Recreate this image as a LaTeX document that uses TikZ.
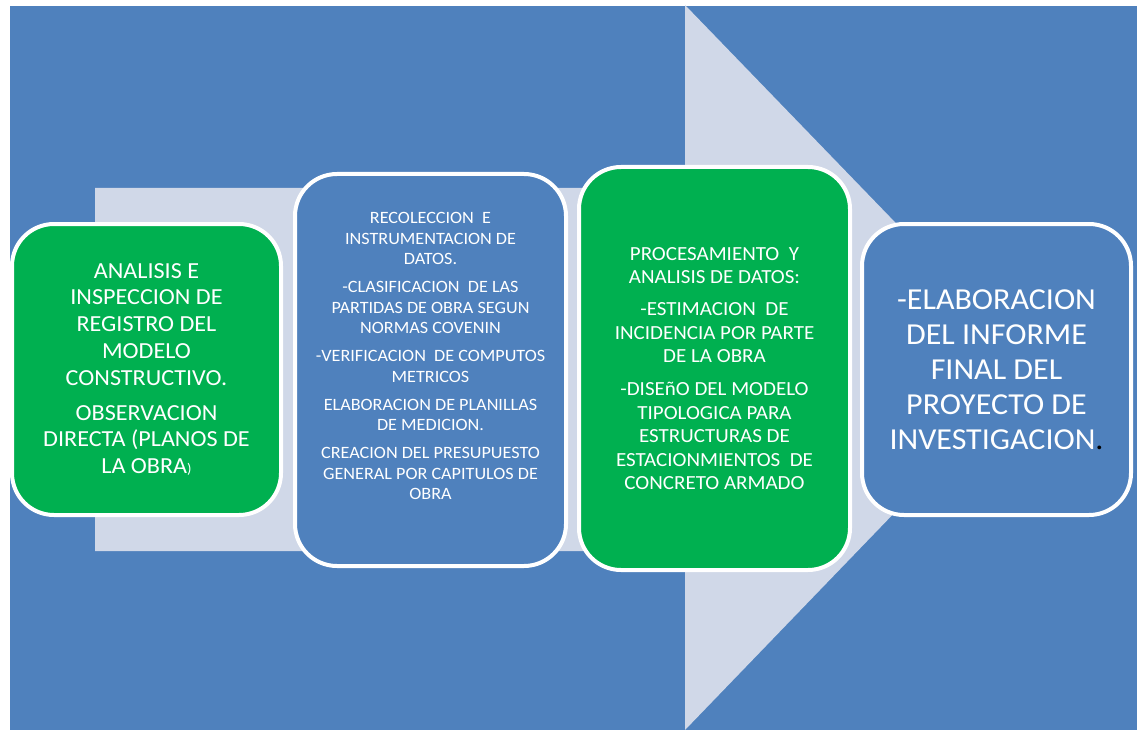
\documentclass[tikz,border=0pt]{standalone}
\usepackage{fontspec}
\setmainfont{Carlito}[FakeStretch=1.05]
\definecolor{fondoazul}{HTML}{4F81BD}
\definecolor{verdeobra}{HTML}{00B050}
\definecolor{flechagris}{HTML}{D0D8E8}
\begin{document}
\begin{tikzpicture}[x=1pt,y=-1pt,
                        caja/.style={rectangle, rounded corners=42pt, draw=white, line width=4pt, fill=#1},
                        texto/.style={align=center, text=white}]
                        \useasboundingbox (0,0) rectangle (1137,730);
                        \fill[white] (0,0) rectangle (1137,730);
                        \fill[fondoazul] (10,6) rectangle (1137,730);
                        
                        % flecha de fondo
                        \fill[flechagris] (95,188) -- (685,188) -- (685,5) -- (1035,367) -- (685,730) -- (685,551) -- (95,551) -- cycle;
                        
                        \node[caja=verdeobra, minimum width=269pt, minimum height=291pt, texto,
                              font=\fontsize{23}{26.8}\selectfont] (paso1) at (146.5,369.5)
                              {ANALISIS E\\INSPECCION DE\\REGISTRO DEL\\MODELO\\CONSTRUCTIVO.\\[8pt]
                               OBSERVACION\\DIRECTA (PLANOS DE\\LA OBRA{\fontsize{14}{14}\selectfont )}};
                        
                        \node[caja=fondoazul, minimum width=271pt, minimum height=392pt] (paso2) at (430.5,370) {};
                        \node[texto, font=\fontsize{17.3}{20.5}\selectfont] (texto2) at ([yshift=14pt]paso2.center)
                              {RECOLECCION\ \ E\\INSTRUMENTACION DE\\DATOS.\\[7.5pt]
                               -CLASIFICACION\ \ DE LAS\\PARTIDAS DE OBRA SEGUN\\NORMAS COVENIN\\[7.5pt]
                               -VERIFICACION\ \ DE COMPUTOS\\METRICOS\\[7.5pt]
                               ELABORACION DE PLANILLAS\\DE MEDICION.\\[7.5pt]
                               CREACION DEL PRESUPUESTO\\GENERAL POR CAPITULOS DE\\OBRA};
                        
                        \node[caja=verdeobra, minimum width=271pt, minimum height=403pt, texto,
                              font=\fontsize{20}{23.5}\selectfont] (paso3) at (714.5,368.5)
                              {PROCESAMIENTO\ \ Y\\ANALISIS DE DATOS:\\[8.5pt]
                               -ESTIMACION\ \ DE\\INCIDENCIA POR PARTE\\DE LA OBRA\\[9.5pt]
                               -DISEñO DEL MODELO\\TIPOLOGICA PARA\\ESTRUCTURAS DE\\ESTACIONMIENTOS\ \ DE\\CONCRETO ARMADO};
                        
                        \node[caja=fondoazul, minimum width=269pt, minimum height=291pt, texto,
                              font=\fontsize{30.5}{35}\selectfont] (paso4) at (996.5,369.5)
                              {-ELABORACION\\DEL INFORME\\FINAL DEL\\PROYECTO DE\\INVESTIGACION{\color{black}.}};
                    \end{tikzpicture}
\end{document}
